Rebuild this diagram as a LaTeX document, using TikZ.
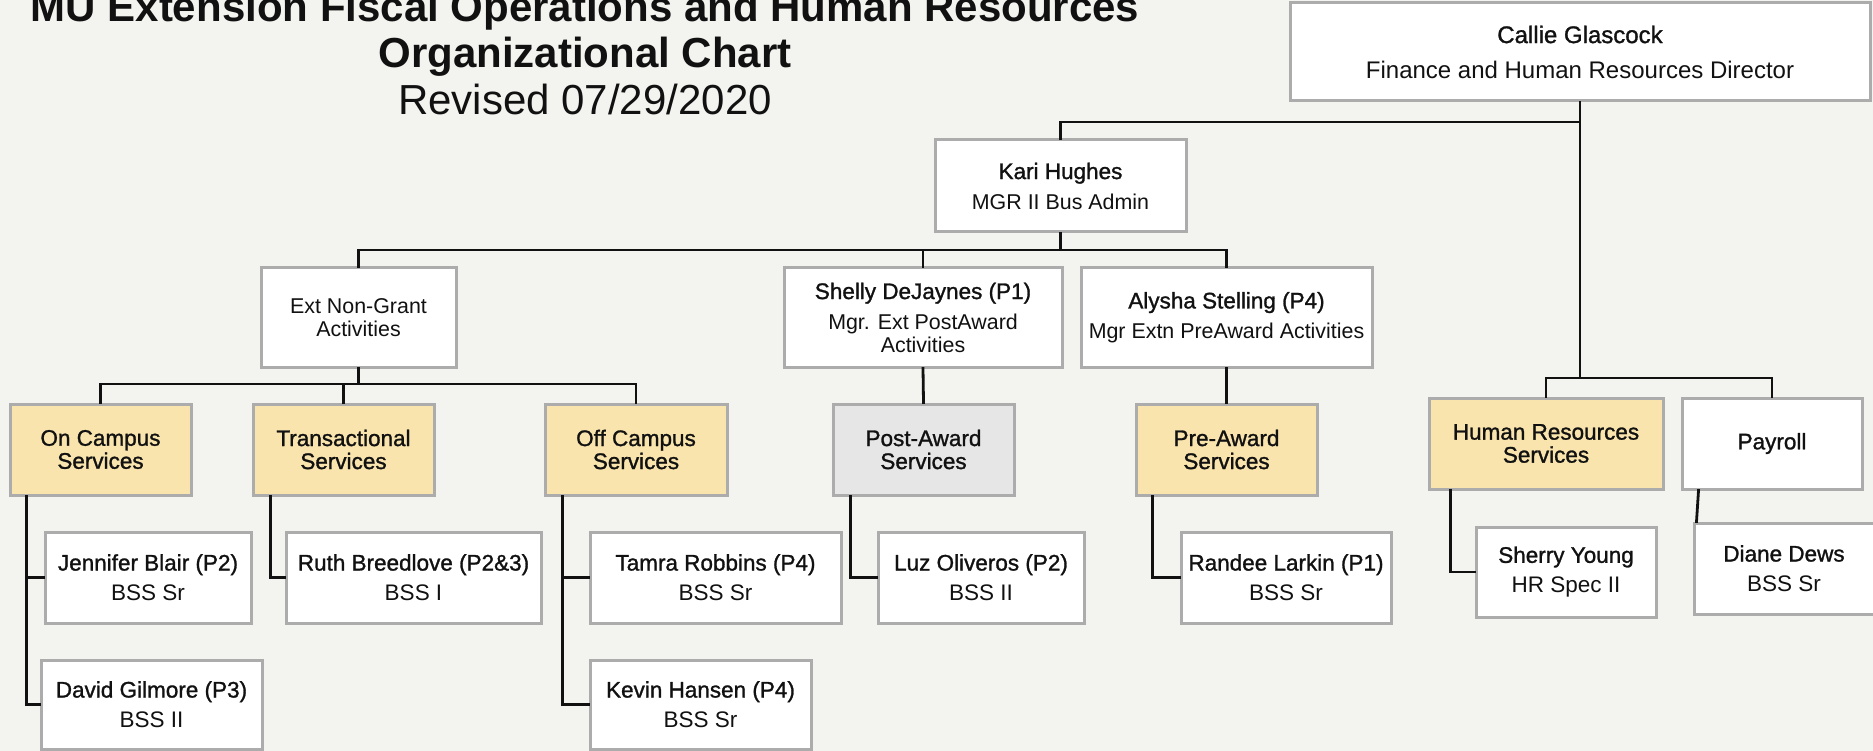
\documentclass[tikz,border=0pt]{standalone}
\usepackage{fontspec}
\setmainfont{Liberation Sans}
\newfontfamily\medfont[FakeBold=1.2]{Liberation Sans}
\definecolor{bg}{RGB}{243,243,239}
\definecolor{tanfill}{RGB}{248,228,172}
\definecolor{grayfill}{RGB}{230,230,230}
\definecolor{boxline}{RGB}{172,172,172}
\definecolor{ink}{RGB}{17,17,17}
\newcommand{\rolefont}{\fontsize{21.4}{23}\selectfont}
\tikzset{
  orgbox/.style={draw=boxline, line width=3pt, fill=white, minimum height=91pt,
    inner sep=0pt, align=center, text=ink, font=\fontsize{22.5}{23}\selectfont},
  tanbox/.style={orgbox, fill=tanfill},
  graybox/.style={orgbox, fill=grayfill},
  conn/.style={draw=ink, line width=2.8pt, line cap=rect},
  titletext/.style={anchor=base, text=ink}
}
\begin{document}
\begin{tikzpicture}[x=1pt,y=-1pt]
\fill[bg] (0,0) rectangle (1873,751);
\useasboundingbox (0,0) rectangle (1873,751);

% title
\node[titletext, font=\bfseries\fontsize{42}{42}\selectfont] (t1) at (585,22) {MU Extension Fiscal Operations and Human Resources};
\node[titletext, font=\bfseries\fontsize{42}{42}\selectfont] (t2) at (585,68) {Organizational Chart};
\node[titletext, font=\fontsize{42}{42}\selectfont] (t3) at (585,115) {Revised 07/29/2020};

% level 0 / 1
\node[orgbox, minimum width=580pt, minimum height=98pt, font=\fontsize{24}{24}\selectfont] (callie) at (1580,52)
  {{\medfont Callie Glascock}\\[11pt]Finance and Human Resources Director};
\node[orgbox, minimum width=251pt, minimum height=92pt] (kari) at (1060.5,186)
  {{\medfont Kari Hughes}\\[7pt]{\rolefont MGR II Bus Admin}};

% level 2
\node[orgbox, minimum width=195pt, minimum height=99pt, font=\rolefont] (eng) at (358.5,317.5)
  {Ext Non-Grant\\Activities};
\node[orgbox, minimum width=278pt, minimum height=99pt] (shelly) at (923,317.5)
  {{\medfont Shelly DeJaynes (P1)}\\[7pt]{\rolefont Mgr. Ext PostAward}\\{\rolefont Activities}};
\node[orgbox, minimum width=291pt, minimum height=99pt] (alysha) at (1226.5,317.5)
  {{\medfont Alysha Stelling (P4)}\\[7pt]{\rolefont Mgr Extn PreAward Activities}};

% level 3
\node[tanbox, minimum width=181pt] (oncampus) at (100.5,449.5) {\medfont On Campus\\\medfont Services};
\node[tanbox, minimum width=181pt] (trans) at (343.5,449.5) {\medfont Transactional\\\medfont Services};
\node[tanbox, minimum width=182pt] (offcampus) at (636,449.5) {\medfont Off Campus\\\medfont Services};
\node[graybox, minimum width=181pt] (postaward) at (923.5,449.5) {\medfont Post-Award\\\medfont Services};
\node[tanbox, minimum width=181pt] (preaward) at (1226.5,449.5) {\medfont Pre-Award\\\medfont Services};
\node[tanbox, minimum width=234pt] (hr) at (1546,443.5) {\medfont Human Resources\\\medfont Services};
\node[orgbox, minimum width=180pt] (payroll) at (1772,443.5) {\medfont Payroll};

% level 4
\node[orgbox, minimum width=206pt] (jennifer) at (148,577.5) {{\medfont Jennifer Blair (P2)}\\[7pt]BSS Sr};
\node[orgbox, minimum width=221pt, minimum height=89pt] (david) at (151.5,704.5) {{\medfont David Gilmore (P3)}\\[7pt]BSS II};
\node[orgbox, minimum width=255pt] (ruth) at (413.5,577.5) {{\medfont Ruth Breedlove (P2\&3)}\\[7pt]BSS I};
\node[orgbox, minimum width=251pt] (tamra) at (715.5,577.5) {{\medfont Tamra Robbins (P4)}\\[7pt]BSS Sr};
\node[orgbox, minimum width=221pt, minimum height=89pt] (kevin) at (700.5,704.5) {{\medfont Kevin Hansen (P4)}\\[7pt]BSS Sr};
\node[orgbox, minimum width=206pt] (luz) at (981,577.5) {{\medfont Luz Oliveros (P2)}\\[7pt]BSS II};
\node[orgbox, minimum width=210pt] (randee) at (1286,577.5) {{\medfont Randee Larkin (P1)}\\[7pt]BSS Sr};
\node[orgbox, minimum width=180pt, minimum height=90pt] (sherry) at (1566,572) {{\medfont Sherry Young}\\[7pt]HR Spec II};
\node[orgbox, minimum width=180pt] (diane) at (1784,568.5) {{\medfont Diane Dews}\\[7pt]BSS Sr};

% bar coordinates
\coordinate (kbar) at (0,122);
\coordinate (hrbar) at (0,378);
\coordinate (lbar) at (0,250);
\coordinate (ebar) at (0,384);

% connectors
\draw[conn] (callie.south) -- (callie.south |- hrbar);
\draw[conn] (kari.north) -- (kari.north |- kbar) -| (callie.south);
\draw[conn] (hr.north) -- (hr.north |- hrbar) -| (payroll.north);

\draw[conn] (kari.south) -- (kari.south |- lbar);
\draw[conn] (eng.north) -- (eng.north |- lbar) -| (alysha.north);
\draw[conn] (shelly.north) -- (shelly.north |- lbar);

\draw[conn] (eng.south) -- (eng.south |- ebar);
\draw[conn] (oncampus.north) -- (oncampus.north |- ebar) -| (offcampus.north);
\draw[conn] (trans.north) -- (trans.north |- ebar);

\draw[conn] (shelly.south) -- (postaward.north);
\draw[conn] (alysha.south) -- (preaward.north);

\draw[conn] ([xshift=18pt]oncampus.south west) |- (jennifer.west);
\draw[conn] ([xshift=18pt]oncampus.south west) |- (david.west);
\draw[conn] ([xshift=19pt]trans.south west) |- (ruth.west);
\draw[conn] ([xshift=19pt]offcampus.south west) |- (tamra.west);
\draw[conn] ([xshift=19pt]offcampus.south west) |- (kevin.west);
\draw[conn] ([xshift=19pt]postaward.south west) |- (luz.west);
\draw[conn] ([xshift=18pt]preaward.south west) |- (randee.west);
\draw[conn] ([xshift=23pt]hr.south west) |- (sherry.west);
\draw[conn] ([xshift=18pt]payroll.south west) -- ([xshift=4pt]diane.north west);
\end{tikzpicture}
\end{document}
